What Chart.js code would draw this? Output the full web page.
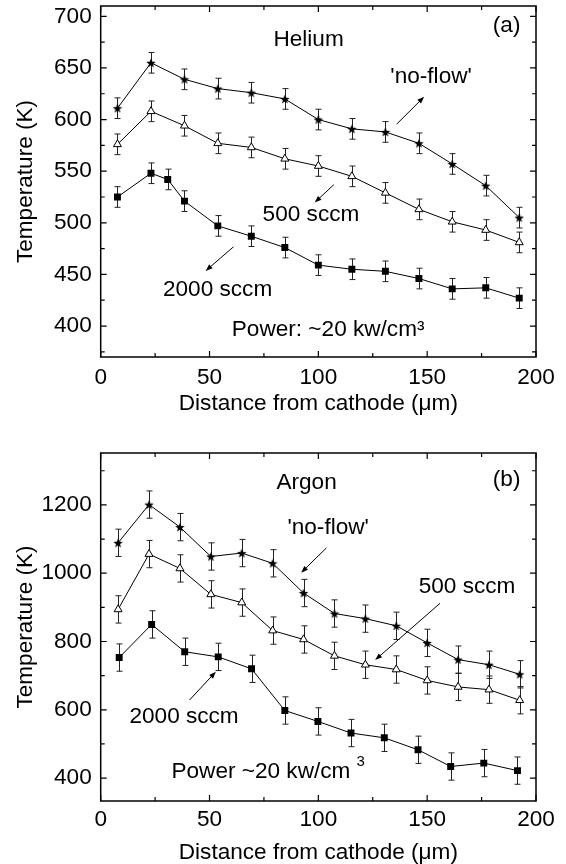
<!DOCTYPE html>
<html><head><meta charset="utf-8">
<script src="https://cdn.jsdelivr.net/npm/chart.js@4.4.1/dist/chart.umd.min.js"></script>
<style>
html,body{margin:0;padding:0;background:#fff;width:566px;height:864px;overflow:hidden;position:relative;}
canvas{position:absolute;left:0;}
#c1{top:-20px;}
#c2{top:420px;}
</style></head><body>
<canvas id="c1" width="566" height="450"></canvas>
<canvas id="c2" width="566" height="454"></canvas>
<script>
// ---------- Panel (a): Helium ----------
const heXTicks = [0, 50, 100, 150, 200];
const heXMinor = [25, 75, 125, 175];
const heYTicks = [400, 450, 500, 550, 600, 650, 700];
const heYMinor = [375, 425, 475, 525, 575, 625, 675];
const heX = [7.7, 23.1, 38.5, 53.8, 69.2, 84.6, 100, 115.4, 130.8, 146.2, 161.5, 176.9, 192.3];
const heNoFlow = [611, 655, 639, 630, 626, 620, 600, 591, 588, 577, 557, 536, 505];
const he500 = [576, 608, 594, 577, 573, 562, 555, 545, 529, 513, 501, 493, 481];
const he2000X = [7.7, 23.1, 30.8, 38.5, 53.8, 69.2, 84.6, 100, 115.4, 130.8, 146.2, 161.5, 176.9, 192.3];
const he2000 = [525, 548, 542, 521, 497, 487, 476, 459, 455, 453, 446, 436, 437, 427];
const heErr = 10;

// ---------- Panel (b): Argon ----------
const arXTicks = [0, 50, 100, 150, 200];
const arXMinor = [25, 75, 125, 175];
const arYTicks = [400, 600, 800, 1000, 1200];
const arYMinor = [500, 700, 900, 1100, 1300];
const arX = [8, 22.2, 36.4, 50.6, 64.8, 79, 93.2, 107.4, 121.6, 135.8, 150, 164.2, 178.4, 192.5];
const arNoFlow = [1089, 1201, 1135, 1049, 1059, 1029, 942, 882, 867, 846, 796, 747, 732, 704];
const ar500 = [894, 1056, 1014, 938, 914, 832, 806, 758, 732, 718, 686, 667, 659, 628];
const ar2000X = [8.5, 23.4, 38.6, 54, 69.3, 84.6, 99.8, 115, 130.3, 145.8, 160.8, 176, 191.5];
const ar2000 = [753, 850, 770, 755, 720, 598, 566, 532, 518, 483, 434, 444, 422];
const arErr = 40;

// ---------- Annotations (data coordinates) ----------
const heLabels = [
  {text: 'Helium', x: 95.5, y: 677},
  {text: '(a)', x: 186.5, y: 690.6},
  {text: "'no-flow'", x: 151.8, y: 641},
  {text: '500 sccm', x: 96.6, y: 507.8},
  {text: '2000 sccm', x: 53.7, y: 435},
  {text: 'Power: ~20 kw/cm\u00B3', x: 104.5, y: 396}
];
const heArrows = [
  {from: [136, 595.6], to: [148.6, 622.1]},
  {from: [107.1, 536.9], to: [98.3, 519.6]},
  {from: [61, 476.7], to: [48.2, 453.4]}
];
const arLabels = [
  {text: 'Argon', x: 94.6, y: 1264},
  {text: '(b)', x: 186.5, y: 1273},
  {text: "'no-flow'", x: 104.5, y: 1132.6},
  {text: '500 sccm', x: 168.3, y: 959.7},
  {text: '2000 sccm', x: 38.3, y: 578.8},
  {text: 'Power ~20 kw/cm', x: 32.5, y: 417.6, align: 'left'},
  {text: '3', x: 119.5, y: 447, small: true}
];
const arArrows = [
  {from: [103.7, 1074], to: [92.1, 1001.6]},
  {from: [155.9, 912], to: [126.1, 745.8]},
  {from: [40.8, 628.6], to: [52.9, 711.5]}
];

const FONT = "'Liberation Sans', Arial, Helvetica, sans-serif";
const FS = 22.6;
Chart.defaults.font.family = FONT;
Chart.defaults.font.size = FS;
Chart.defaults.color = '#000';

function makeStar(r) {
  const c = document.createElement('canvas');
  const size = Math.ceil(r * 2) + 2;
  c.width = c.height = size;
  const g = c.getContext('2d');
  const cx = size / 2, cy = size / 2 + r * 0.1;
  g.beginPath();
  for (let k = 0; k < 10; k++) {
    const rr = k % 2 ? r * 0.42 : r;
    const a = -Math.PI / 2 + k * Math.PI / 5;
    g.lineTo(cx + rr * Math.cos(a), cy + rr * Math.sin(a));
  }
  g.closePath();
  g.fillStyle = '#000';
  g.fill();
  return c;
}
const STAR = makeStar(5);

const errorBarPlugin = {
  id: 'errbars',
  beforeDatasetsDraw(chart) {
    const ctx = chart.ctx, ys = chart.scales.y;
    chart.data.datasets.forEach((ds, i) => {
      if (ds.errorBar == null) return;
      const meta = chart.getDatasetMeta(i);
      ctx.save();
      ctx.strokeStyle = '#222';
      ctx.lineWidth = 1;
      meta.data.forEach((pt, j) => {
        const v = ds.data[j].y;
        const yt = ys.getPixelForValue(v + ds.errorBar);
        const yb = ys.getPixelForValue(v - ds.errorBar);
        const x = Math.round(pt.x) + 0.5;
        ctx.beginPath();
        ctx.moveTo(x, yt); ctx.lineTo(x, yb);
        ctx.moveTo(x - 3, yt); ctx.lineTo(x + 3, yt);
        ctx.moveTo(x - 3, yb); ctx.lineTo(x + 3, yb);
        ctx.stroke();
      });
      ctx.restore();
    });
  }
};

const framePlugin = {
  id: 'frame',
  afterDatasetsDraw(chart, args, o) {
    const ctx = chart.ctx, a = chart.chartArea, xs = chart.scales.x, ys = chart.scales.y;
    ctx.save();
    ctx.strokeStyle = '#000';
    ctx.lineWidth = 1.5;
    ctx.strokeRect(a.left, a.top, a.right - a.left, a.bottom - a.top);
    ctx.lineWidth = 1.2;
    ctx.beginPath();
    const xt = (vals, len) => vals.forEach(v => {
      const p = xs.getPixelForValue(v);
      ctx.moveTo(p, a.bottom); ctx.lineTo(p, a.bottom - len);
      ctx.moveTo(p, a.top); ctx.lineTo(p, a.top + len);
    });
    const yt = (vals, len) => vals.forEach(v => {
      const p = ys.getPixelForValue(v);
      ctx.moveTo(a.left, p); ctx.lineTo(a.left + len, p);
      ctx.moveTo(a.right, p); ctx.lineTo(a.right - len, p);
    });
    xt(o.xMajor, 6); xt(o.xMinor, 4);
    yt(o.yMajor, 6); yt(o.yMinor, 4);
    ctx.stroke();
    ctx.restore();
  }
};

const notesPlugin = {
  id: 'notes',
  afterDatasetsDraw(chart, args, o) {
    const ctx = chart.ctx, xs = chart.scales.x, ys = chart.scales.y;
    ctx.save();
    ctx.fillStyle = '#000';
    ctx.strokeStyle = '#000';
    ctx.textBaseline = 'middle';
    o.labels.forEach(l => {
      ctx.font = (l.small ? 15 : FS) + 'px ' + FONT;
      ctx.textAlign = l.align || 'center';
      ctx.fillText(l.text, xs.getPixelForValue(l.x), ys.getPixelForValue(l.y));
    });
    ctx.lineWidth = 1;
    o.arrows.forEach(ar => {
      const x1 = xs.getPixelForValue(ar.from[0]), y1 = ys.getPixelForValue(ar.from[1]);
      const x2 = xs.getPixelForValue(ar.to[0]), y2 = ys.getPixelForValue(ar.to[1]);
      const ang = Math.atan2(y2 - y1, x2 - x1);
      const hl = 7, hw = 2.6;
      ctx.beginPath();
      ctx.moveTo(x1, y1);
      ctx.lineTo(x2 - hl * 0.8 * Math.cos(ang), y2 - hl * 0.8 * Math.sin(ang));
      ctx.stroke();
      ctx.beginPath();
      ctx.moveTo(x2, y2);
      ctx.lineTo(x2 - hl * Math.cos(ang) + hw * Math.sin(ang), y2 - hl * Math.sin(ang) - hw * Math.cos(ang));
      ctx.lineTo(x2 - hl * Math.cos(ang) - hw * Math.sin(ang), y2 - hl * Math.sin(ang) + hw * Math.cos(ang));
      ctx.closePath();
      ctx.fill();
    });
    ctx.restore();
  }
};

function series(xs, ys, kind, err) {
  const base = {
    data: xs.map((x, i) => ({x: x, y: ys[i]})),
    borderColor: '#000', borderWidth: 1, tension: 0, fill: false,
    pointBorderColor: '#000', errorBar: err
  };
  if (kind === 'star') Object.assign(base, {pointStyle: STAR, pointRadius: 5, pointBackgroundColor: '#000'});
  if (kind === 'tri') Object.assign(base, {pointStyle: 'triangle', pointRadius: 4.6, pointBackgroundColor: '#fff', pointBorderWidth: 1});
  if (kind === 'sq') Object.assign(base, {pointStyle: 'rect', pointRadius: 4.9, pointBackgroundColor: '#000', pointBorderWidth: 0});
  return base;
}

function makeChart(id, c) {
  return new Chart(document.getElementById(id), {
    type: 'line',
    data: {datasets: c.datasets},
    options: {
      responsive: false, animation: false, devicePixelRatio: 1,
      layout: {padding: {top: c.padTop, right: 30, left: 0, bottom: 0}},
      plugins: {
        legend: {display: false}, tooltip: {enabled: false},
        frame: {xMajor: c.xTicks, xMinor: c.xMinor, yMajor: c.yTicks, yMinor: c.yMinor},
        notes: {labels: c.labels, arrows: c.arrows}
      },
      scales: {
        x: {
          type: 'linear', min: 0, max: 200,
          afterBuildTicks: s => { s.ticks = c.xTicks.map(v => ({value: v})); },
          afterFit: s => { s.height = c.xH; },
          grid: {display: false, drawTicks: false}, border: {display: false},
          ticks: {padding: c.xTickPad, maxRotation: 0, autoSkip: false, color: '#000', font: {size: FS}, callback: v => String(v)},
          title: {display: true, text: 'Distance from cathode (\u03BCm)', color: '#000', font: {size: FS}, padding: {top: 0, bottom: c.xTitlePad}}
        },
        y: {
          type: 'linear', min: c.yMin, max: c.yMax,
          afterBuildTicks: s => { s.ticks = c.yTicks.map(v => ({value: v})); },
          afterFit: s => { s.width = 100.7; },
          grid: {display: false, drawTicks: false}, border: {display: false},
          ticks: {padding: 9, autoSkip: false, color: '#000', font: {size: FS}, callback: v => String(v)},
          title: {display: true, text: 'Temperature (K)', color: '#000', font: {size: FS}, padding: {top: 12.5, bottom: 0}}
        }
      }
    },
    plugins: [errorBarPlugin, framePlugin, notesPlugin]
  });
}

makeChart('c1', {
  datasets: [
    series(heX, heNoFlow, 'star', heErr),
    series(heX, he500, 'tri', heErr),
    series(he2000X, he2000, 'sq', heErr)
  ],
  xTicks: heXTicks, xMinor: heXMinor, yTicks: heYTicks, yMinor: heYMinor,
  yMin: 370, yMax: 710, padTop: 26, xH: 73, xTickPad: 7, xTitlePad: 13,
  labels: heLabels, arrows: heArrows
});

makeChart('c2', {
  datasets: [
    series(arX, arNoFlow, 'star', arErr),
    series(arX, ar500, 'tri', arErr),
    series(ar2000X, ar2000, 'sq', arErr)
  ],
  xTicks: arXTicks, xMinor: arXMinor, yTicks: arYTicks, yMinor: arYMinor,
  yMin: 333, yMax: 1352, padTop: 33, xH: 73, xTickPad: 5, xTitlePad: 8,
  labels: arLabels, arrows: arArrows
});
</script>
</body></html>
